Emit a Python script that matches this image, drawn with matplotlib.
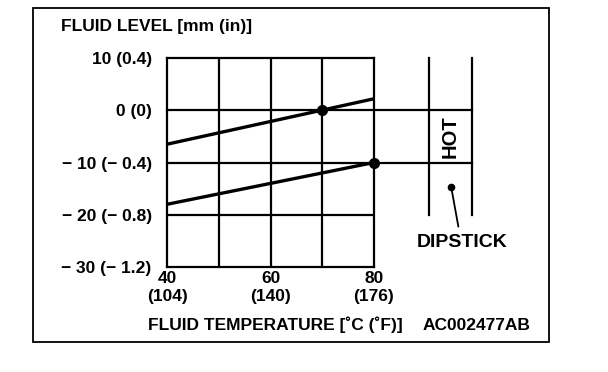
import matplotlib.pyplot as plt
from matplotlib.patches import Rectangle

# data
temp_c = [40, 80]
level_upper = [-6.5, 2.2]
level_lower = [-18.0, -10.0]
dot_temp = [70, 80]
dot_level = [0, -10]
xticks = [40, 60, 80]
xtick_labels = ['40\n(104)', '60\n(140)', '80\n(176)']
yticks = [10, 0, -10, -20, -30]
ytick_labels = ['10 (0.4)', '0 (0)', '\u2212 10 (\u2212 0.4)', '\u2212 20 (\u2212 0.8)', '\u2212 30 (\u2212 1.2)']
dipstick_x = [90.6, 99.0]
hot_levels = [0, -10]

plt.rcParams['font.family'] = ['Liberation Sans', 'DejaVu Sans']
plt.rcParams['font.weight'] = 'bold'

fig = plt.figure(figsize=(6.08, 3.72), dpi=100)
fig.patches.append(Rectangle((33 / 608, 1 - 342 / 372), 516 / 608, 334 / 372,
                             transform=fig.transFigure, fill=False, ec='black', lw=1.3))

ax = fig.add_axes([167 / 608, 1 - 267 / 372, 207 / 608, 209 / 372])
ax.set_xlim(40, 80)
ax.set_ylim(-30, 10)

for x in [50, 60, 70]:
    ax.axvline(x, color='black', lw=1.6)
for y in [-20]:
    ax.axhline(y, color='black', lw=1.6)
# horizontal lines at 0 and -10 run on to the dipstick
for y in hot_levels:
    ax.plot([40, dipstick_x[1]], [y, y], color='black', lw=1.6, clip_on=False)
for x in dipstick_x:
    ax.plot([x, x], [-20, 10], color='black', lw=1.6, clip_on=False)

ax.plot(temp_c, level_upper, color='black', lw=2.4, solid_capstyle='butt')
ax.plot(temp_c, level_lower, color='black', lw=2.4, solid_capstyle='butt')
ax.plot(dot_temp, dot_level, 'o', color='black', ms=7, clip_on=False)

for s in ax.spines.values():
    s.set_linewidth(1.6)

ax.set_xticks(xticks)
ax.set_xticklabels(xtick_labels, fontsize=12.5, linespacing=1.2)
ax.set_yticks(yticks)
ax.set_yticklabels(ytick_labels, fontsize=12.5)
ax.tick_params(length=0, pad=3)
ax.tick_params(axis='y', pad=11)

ax.text((dipstick_x[0] + dipstick_x[1]) / 2, -5, 'HOT', rotation=90, ha='center', va='center',
        fontsize=14.5, clip_on=False)
ax.annotate('', xy=(94.9, -14.6), xytext=(96.4, -22.8),
            arrowprops=dict(arrowstyle='-', color='black', lw=1.3), annotation_clip=False)
ax.plot([94.9], [-14.6], 'o', color='black', ms=4.5, clip_on=False)
ax.text(97.0, -25.3, 'DIPSTICK', ha='center', va='center', fontsize=14, clip_on=False)

fig.text(61 / 608, 1 - 26 / 372, 'FLUID LEVEL [mm (in)]', ha='left', va='center', fontsize=12.5)
fig.text(148 / 608, 1 - 325 / 372, 'FLUID TEMPERATURE [\u02daC (\u02daF)]', ha='left', va='center', fontsize=12.5)
fig.text(423 / 608, 1 - 325 / 372, 'AC002477AB', ha='left', va='center', fontsize=12.5)

fig.savefig('out.png', dpi=100)
